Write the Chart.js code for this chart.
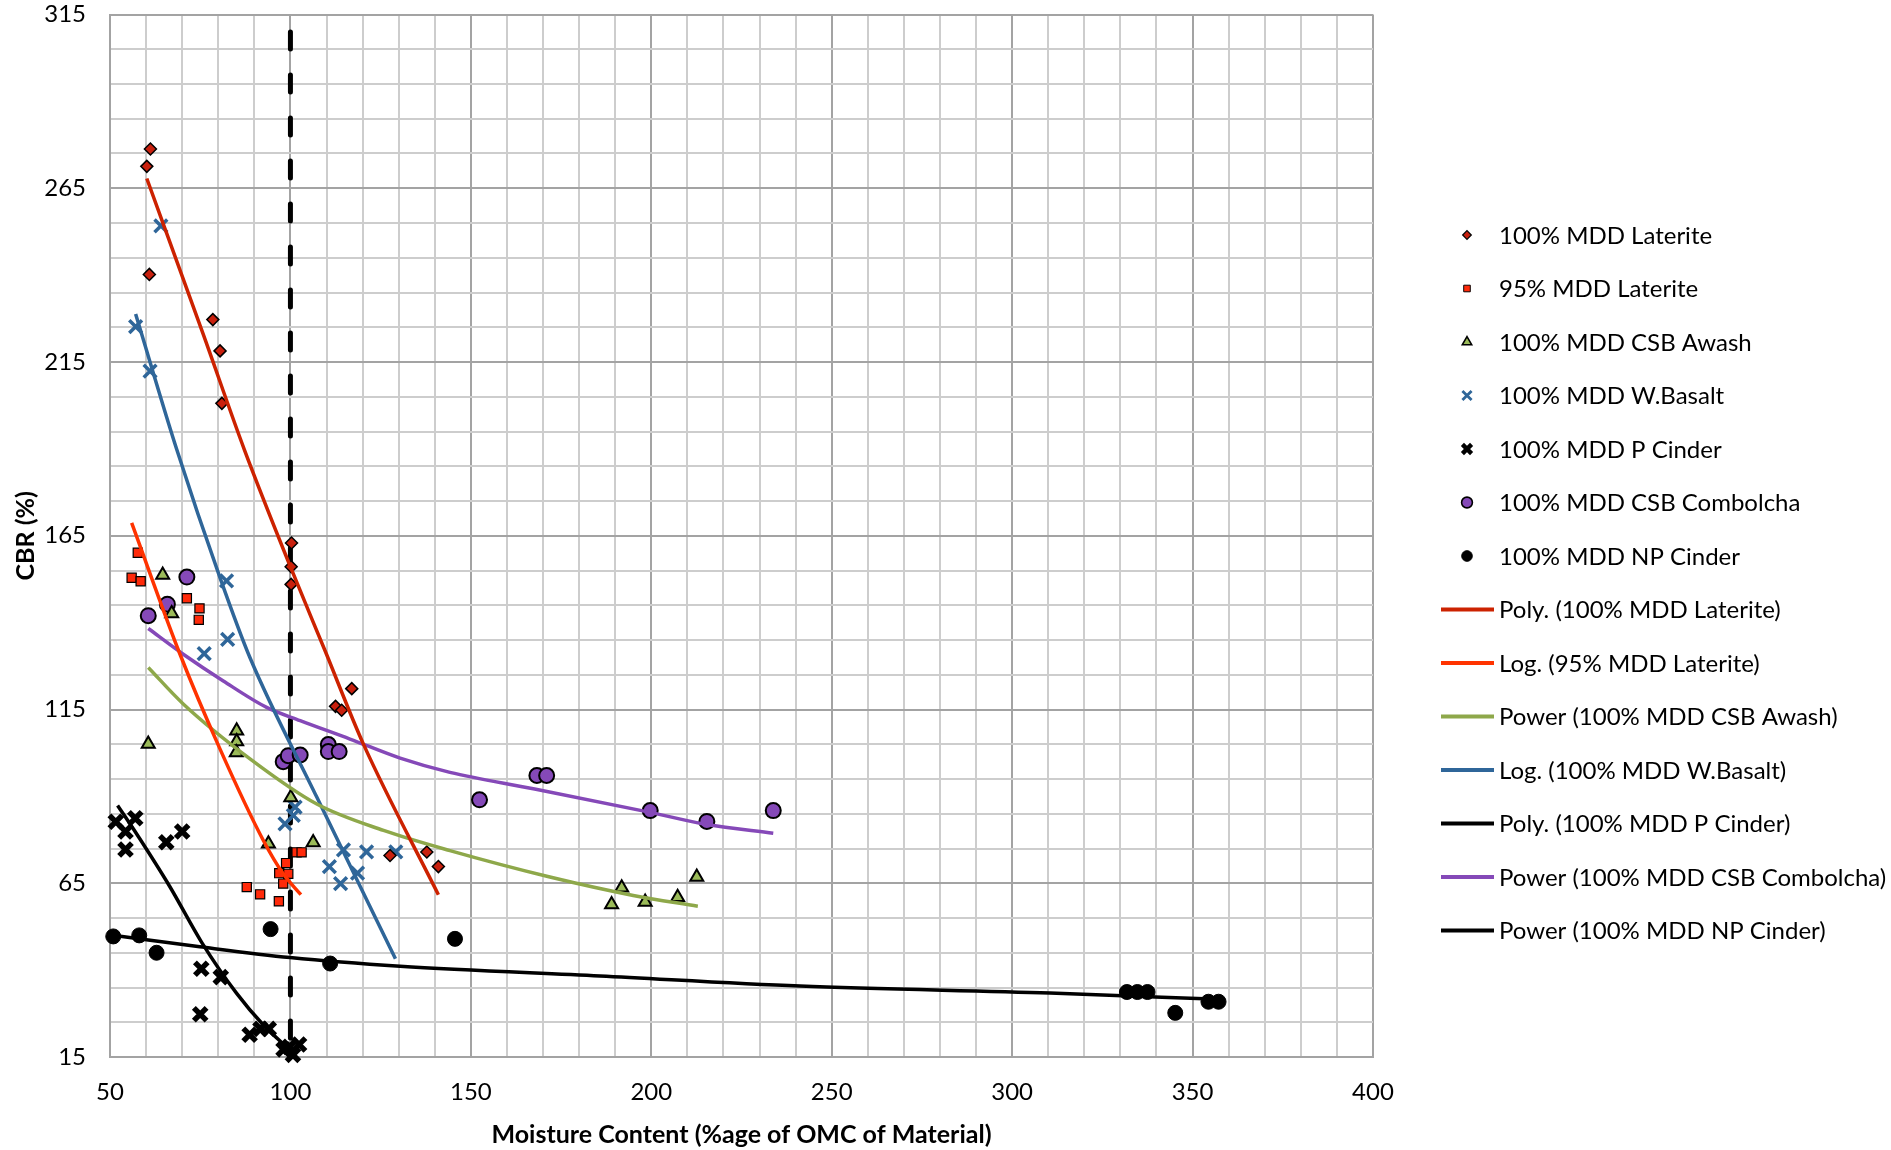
<!DOCTYPE html>
<html>
<head>
<meta charset="utf-8">
<title>CBR vs Moisture Content</title>
<script src="https://cdn.jsdelivr.net/npm/chart.js@4.4.1/dist/chart.umd.min.js"></script>
<style>
  html, body { margin: 0; padding: 0; background: #fff; }
  #wrap { width: 1891px; height: 1150px; }
</style>
</head>
<body>
<div id="wrap"><canvas id="cbrChart" width="1891" height="1150"></canvas></div>
<script>
// axis labels
const xTickLabels = [50, 100, 150, 200, 250, 300, 350, 400];
const yTickLabels = [15, 65, 115, 165, 215, 265, 315];

// measured points (x = moisture content % of OMC, y = CBR %)
const lateriteX = [61.2, 60.2, 60.9, 78.5, 80.5, 81.0, 100.3, 100.2, 100.2, 117.0, 112.5, 114.2, 127.6, 137.8, 141.0];
const lateriteY = [276.3, 271.3, 240.2, 227.2, 218.2, 203.1, 162.9, 156.1, 151.0, 121.0, 115.9, 114.8, 73.0, 74.0, 69.8];

const laterite95X = [57.7, 56.0, 58.5, 71.3, 74.8, 74.6, 101.7, 103.1, 98.8, 96.9, 99.4, 98.0, 87.9, 91.6, 96.8];
const laterite95Y = [160.1, 152.9, 151.9, 147.0, 144.1, 140.8, 73.9, 73.9, 70.8, 67.9, 67.7, 64.9, 63.9, 61.8, 59.8];

const awashX = [64.6, 67.1, 60.6, 85.1, 85.1, 85.0, 100.1, 93.9, 106.3, 191.8, 189.0, 198.3, 207.3, 212.6];
const awashY = [153.7, 142.6, 105.1, 108.9, 105.8, 102.6, 89.7, 76.4, 76.7, 63.7, 58.9, 59.6, 61.0, 66.8];

const basaltX = [64.1, 57.1, 61.1, 82.3, 82.6, 76.1, 101.3, 100.8, 98.5, 110.8, 114.7, 121.1, 113.9, 118.6, 129.2];
const basaltY = [254.2, 225.2, 212.4, 152.0, 135.2, 131.1, 86.9, 84.5, 82.1, 69.8, 74.6, 74.0, 64.9, 67.9, 74.0];

const pCinderX = [51.6, 54.3, 57.0, 54.3, 65.6, 70.0, 75.3, 80.7, 75.0, 88.7, 91.7, 94.0, 98.1, 99.7, 102.4, 100.7];
const pCinderY = [82.7, 79.9, 83.7, 74.7, 76.8, 79.9, 40.4, 38.0, 27.3, 21.4, 23.1, 23.1, 17.2, 17.9, 18.6, 15.6];

const combolchaX = [71.3, 65.9, 60.6, 98.0, 99.4, 102.7, 110.5, 110.5, 113.5, 168.3, 171.0, 152.4, 199.7, 215.4, 233.8];
const combolchaY = [153.1, 145.3, 142.0, 100.0, 101.7, 101.9, 104.9, 102.9, 102.9, 96.0, 96.0, 89.0, 85.9, 82.8, 85.9];

const npCinderX = [50.9, 58.1, 62.9, 94.5, 111.0, 145.6, 331.8, 334.7, 337.5, 345.2, 354.4, 357.2];
const npCinderY = [49.7, 50.0, 45.0, 51.8, 41.9, 49.0, 33.7, 33.7, 33.7, 27.7, 30.9, 30.9];

// trendlines
const latTrendX = [60.2, 75.9, 87.3, 100.3, 109.6, 120.2, 141.0];
const latTrendY = [267.8, 222.8, 189.6, 155.3, 131.9, 105.1, 61.7];
const lat95TrendX = [56.0, 69.4, 80.5, 92.5, 98.0, 102.9];
const lat95TrendY = [168.7, 130.9, 103.6, 77.3, 67.7, 61.7];
const awashTrendX = [60.6, 70.3, 88.8, 107.3, 125.8, 144.2, 171.9, 195.0, 212.9];
const awashTrendY = [127.1, 116.6, 100.8, 87.8, 80.2, 74.4, 66.8, 61.5, 58.4];
const basaltTrendX = [57.1, 68.5, 80.5, 88.8, 107.3, 129.1];
const basaltTrendY = [228.8, 189.8, 152.9, 129.9, 89.8, 43.3];
const pCinderTrendX = [52.1, 56.5, 66.6, 75.4, 85.1, 92.5, 99.9];
const pCinderTrendY = [87.4, 80.6, 64.0, 48.0, 33.3, 24.2, 17.0];
const combolchaTrendX = [60.6, 70.3, 81.4, 93.4, 102.7, 116.5, 130.4, 144.2, 167.3, 199.7, 215.4, 233.8];
const combolchaTrendY = [138.3, 130.9, 123.2, 115.6, 111.8, 106.5, 101.0, 96.9, 92.2, 85.4, 81.9, 79.4];
const npTrendX = [50.3, 74.9, 99.9, 130.4, 185.8, 241.2, 310.5, 357.2];
const npTrendY = [50.1, 46.7, 43.6, 41.1, 38.3, 35.4, 33.4, 31.6];

// OMC reference line
const refLineX = [100, 100];
const refLineY = [310, 15];

const pts = (xs, ys) => xs.map((x, i) => ({ x: x, y: ys[i] }));

function markers(label, xs, ys, style) {
    return Object.assign({
        label: label,
        data: pts(xs, ys),
        showLine: false,
        clip: false,
        order: 2
    }, style);
}

function trend(label, xs, ys, color) {
    return {
        label: label,
        data: pts(xs, ys),
        showLine: true,
        borderColor: color,
        borderWidth: 3.5,
        pointRadius: 0,
        cubicInterpolationMode: 'monotone',
        fill: false,
        order: 1
    };
}

const datasets = [
    markers('100% MDD Laterite', lateriteX, lateriteY, { pointStyle: 'rectRot', pointRadius: 6, pointBackgroundColor: '#C8200E', pointBorderColor: '#000', pointBorderWidth: 1.5 }),
    markers('95% MDD Laterite', laterite95X, laterite95Y, { pointStyle: 'rect', pointRadius: 6.5, pointBackgroundColor: '#FF2A0A', pointBorderColor: '#000', pointBorderWidth: 1.2 }),
    markers('100% MDD CSB Awash', awashX, awashY, { pointStyle: 'triangle', pointRadius: 7.5, pointBackgroundColor: '#9BBB59', pointBorderColor: '#000', pointBorderWidth: 2 }),
    markers('100% MDD W.Basalt', basaltX, basaltY, { pointStyle: 'crossRot', pointRadius: 9, pointBackgroundColor: '#2F6699', pointBorderColor: '#2F6699', pointBorderWidth: 3.5 }),
    markers('100% MDD P Cinder', pCinderX, pCinderY, { pointStyle: 'crossRot', pointRadius: 9, pointBackgroundColor: '#000', pointBorderColor: '#000', pointBorderWidth: 5.5 }),
    markers('100% MDD CSB Combolcha', combolchaX, combolchaY, { pointStyle: 'circle', pointRadius: 7.5, pointBackgroundColor: '#8549B8', pointBorderColor: '#000', pointBorderWidth: 2 }),
    markers('100% MDD NP Cinder', npCinderX, npCinderY, { pointStyle: 'circle', pointRadius: 7.5, pointBackgroundColor: '#000', pointBorderColor: '#000', pointBorderWidth: 1 }),
    trend('Poly. (100% MDD Laterite)', latTrendX, latTrendY, '#CC2200'),
    trend('Log. (95% MDD Laterite)', lat95TrendX, lat95TrendY, '#FF3300'),
    trend('Power (100% MDD CSB Awash)', awashTrendX, awashTrendY, '#8EA84A'),
    trend('Log. (100% MDD W.Basalt)', basaltTrendX, basaltTrendY, '#2F6699'),
    trend('Poly. (100% MDD P Cinder)', pCinderTrendX, pCinderTrendY, '#000'),
    trend('Power (100% MDD CSB Combolcha)', combolchaTrendX, combolchaTrendY, '#8549B8'),
    trend('Power (100% MDD NP Cinder)', npTrendX, npTrendY, '#000'),
    {
        label: 'OMC',
        data: pts(refLineX, refLineY),
        showLine: true,
        borderColor: '#000',
        borderWidth: 5,
        borderDash: [17, 26],
        borderCapStyle: 'round',
        pointRadius: 0,
        noLegend: true,
        order: 3
    }
];

// legend drawn at the right like the Excel one
const sideLegend = {
    id: 'sideLegend',
    afterDraw(chart) {
        const ctx = chart.ctx;
        let row = 0;
        ctx.save();
        ctx.font = '24px Lato';
        ctx.textBaseline = 'middle';
        chart.data.datasets.forEach(ds => {
            if (ds.noLegend) return;
            const y = 235 + row * 53.5;
            if (ds.showLine) {
                ctx.strokeStyle = ds.borderColor;
                ctx.lineWidth = 4;
                ctx.beginPath();
                ctx.moveTo(1441, y);
                ctx.lineTo(1494, y);
                ctx.stroke();
            } else {
                ctx.fillStyle = ds.pointBackgroundColor;
                ctx.strokeStyle = ds.pointBorderColor;
                ctx.lineWidth = ds.pointBorderWidth * 0.8;
                Chart.helpers.drawPoint(ctx, {
                    pointStyle: ds.pointStyle,
                    radius: ds.pointRadius * 0.72,
                    borderWidth: ds.pointBorderWidth * 0.8
                }, 1467, y);
            }
            ctx.fillStyle = '#000';
            ctx.fillText(ds.label, 1499, y + 1);
            row++;
        });
        ctx.restore();
    }
};

const gridColor = (majors) => (c) => (c.tick && majors.includes(c.tick.value)) ? '#A3A3A3' : '#CDCDCD';

new Chart(document.getElementById('cbrChart'), {
    type: 'scatter',
    data: { datasets: datasets },
    options: {
        responsive: false,
        animation: false,
        events: [],
        layout: { padding: { top: 12, right: 518, left: 0, bottom: 0 } },
        plugins: {
            legend: { display: false },
            tooltip: { enabled: false }
        },
        scales: {
            x: {
                type: 'linear',
                min: 50,
                max: 400,
                ticks: {
                    stepSize: 10,
                    autoSkip: false,
                    maxRotation: 0,
                    padding: 23,
                    color: '#000',
                    font: { family: 'Lato', size: 24, lineHeight: 1 },
                    callback: v => xTickLabels.includes(v) ? String(v) : ''
                },
                grid: { drawTicks: false, lineWidth: 2, color: gridColor(xTickLabels) },
                border: { color: '#A3A3A3', width: 2 },
                title: {
                    display: true,
                    text: 'Moisture Content (%age of OMC of Material)',
                    color: '#000',
                    font: { family: 'Lato', size: 25, weight: 'bold' },
                    padding: { top: 0, bottom: 0 }
                },
                afterFit: s => { s.height = 93; }
            },
            y: {
                type: 'linear',
                min: 15,
                max: 315,
                ticks: {
                    stepSize: 10,
                    autoSkip: false,
                    padding: 24,
                    color: '#000',
                    font: { family: 'Lato', size: 24, lineHeight: 1 },
                    callback: v => yTickLabels.includes(v) ? String(v) : ''
                },
                grid: { drawTicks: false, lineWidth: 2, color: gridColor(yTickLabels) },
                border: { color: '#A3A3A3', width: 2 },
                title: {
                    display: true,
                    text: 'CBR (%)',
                    color: '#000',
                    font: { family: 'Lato', size: 25, weight: 'bold' },
                    padding: { top: 11, bottom: 0 }
                },
                afterFit: s => {
                    s.width = 110;
                    s.paddingTop = 10;
                    s.paddingBottom = 10;
                }
            }
        }
    },
    plugins: [sideLegend]
});
</script>
</body>
</html>
